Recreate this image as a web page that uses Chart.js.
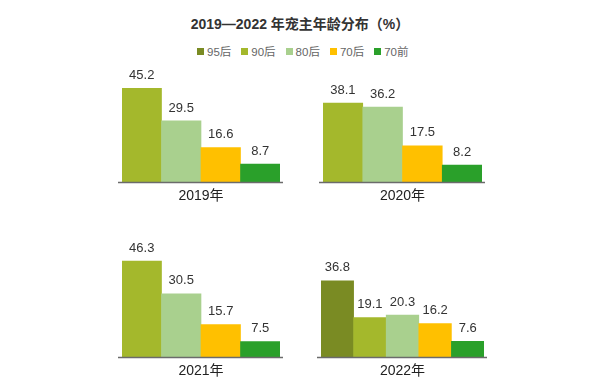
<!DOCTYPE html>
<html>
<head>
<meta charset="utf-8">
<script src="https://cdn.jsdelivr.net/npm/chart.js@4"></script>
<style>
  html, body { margin: 0; padding: 0; background: #fff; }
  body { width: 600px; height: 388px; position: relative; overflow: hidden;
         font-family: "Liberation Sans", "Noto Sans CJK SC", sans-serif; }
  #title { position: absolute; left: 0; width: 600px; top: 13px; text-align: center;
           font-size: 14px; font-weight: bold; color: #333; }
  #legend { position: absolute; left: 197px; top: 43px; display: flex; font-size: 11.5px; color: #666; }
  #legend span { display: flex; align-items: center; margin-right: 10px; }
  #legend i { display: inline-block; width: 7px; height: 7px; margin-right: 3px; }
  .panel { position: absolute; width: 200px; height: 165px; }
</style>
</head>
<body>
<div id="title">2019—2022 年宠主年龄分布（%）</div>
<div id="legend"></div>
<div class="panel" style="left:100px;top:45px"><canvas id="c2019"></canvas></div>
<div class="panel" style="left:300px;top:45px"><canvas id="c2020"></canvas></div>
<div class="panel" style="left:100px;top:220px"><canvas id="c2021"></canvas></div>
<div class="panel" style="left:300px;top:220px"><canvas id="c2022"></canvas></div>
<script>
// age groups and their colours
const categories = ['95后', '90后', '80后', '70后', '70前'];
const colors = ['#7a8b23', '#a4b82c', '#a9d08e', '#ffc000', '#2aa02a'];
const years = ['2019年', '2020年', '2021年', '2022年'];

// share of pet owners per age group (%), null = not reported that year
const share2019 = [null, 45.2, 29.5, 16.6, 8.7];
const share2020 = [null, 38.1, 36.2, 17.5, 8.2];
const share2021 = [null, 46.3, 30.5, 15.7, 7.5];
const share2022 = [36.8, 19.1, 20.3, 16.2, 7.6];

const legend = document.getElementById('legend');
legend.innerHTML = categories.map((c, i) => `<span><i style="background:${colors[i]}"></i>${c}</span>`).join('');

const FONT = '"Liberation Sans", "Noto Sans CJK SC", sans-serif';

// value labels, baseline and year label
const decorPlugin = {
    id: 'decor',
    afterDatasetsDraw(chart) {
        const ctx = chart.ctx;
        const area = chart.chartArea;
        const meta = chart.getDatasetMeta(0);
        const vals = chart.data.datasets[0].data;
        ctx.save();
        ctx.strokeStyle = '#6b6b6b';
        ctx.lineWidth = 1.5;
        ctx.beginPath();
        ctx.moveTo(area.left - 4, area.bottom + 0.5);
        ctx.lineTo(area.right + 3, area.bottom + 0.5);
        ctx.stroke();

        ctx.fillStyle = '#333';
        ctx.font = '13px ' + FONT;
        ctx.textAlign = 'center';
        ctx.textBaseline = 'middle';
        meta.data.forEach((bar, i) => {
            ctx.fillText(vals[i].toFixed(1), bar.x, bar.y - 13);
        });

        ctx.fillStyle = '#222';
        ctx.font = '14px ' + FONT;
        ctx.fillText(chart.options.yearLabel, (area.left + area.right) / 2, area.bottom + 14);
        ctx.restore();
    }
};

function makePanel(id, year, values, pad) {
    const labels = [], data = [], bg = [];
    values.forEach((v, i) => {
        if (v === null) return;
        labels.push(categories[i]);
        data.push(v);
        bg.push(colors[i]);
    });
    new Chart(document.getElementById(id), {
        type: 'bar',
        data: {
            labels: labels,
            datasets: [{ data: data, backgroundColor: bg, borderWidth: 0,
                         categoryPercentage: 1, barPercentage: 1 }]
        },
        options: {
            yearLabel: year,
            responsive: false,
            animation: false,
            layout: { padding: pad },
            plugins: { legend: { display: false }, tooltip: { enabled: false } },
            scales: {
                x: { display: false },
                y: { display: false, min: 0, max: 50 }
            }
        },
        plugins: [decorPlugin]
    });
}

['c2019', 'c2020', 'c2021', 'c2022'].forEach(id => {
    const c = document.getElementById(id);
    c.width = 200; c.height = 165;
    c.style.width = '200px'; c.style.height = '165px';
});

makePanel('c2019', years[0], share2019, { left: 22, right: 20, top: 33.5, bottom: 28 });
makePanel('c2020', years[1], share2020, { left: 23, right: 18, top: 33.5, bottom: 28 });
makePanel('c2021', years[2], share2021, { left: 22, right: 20, top: 33.5, bottom: 28 });
makePanel('c2022', years[3], share2022, { left: 21, right: 16, top: 33.5, bottom: 28 });
</script>
</body>
</html>
